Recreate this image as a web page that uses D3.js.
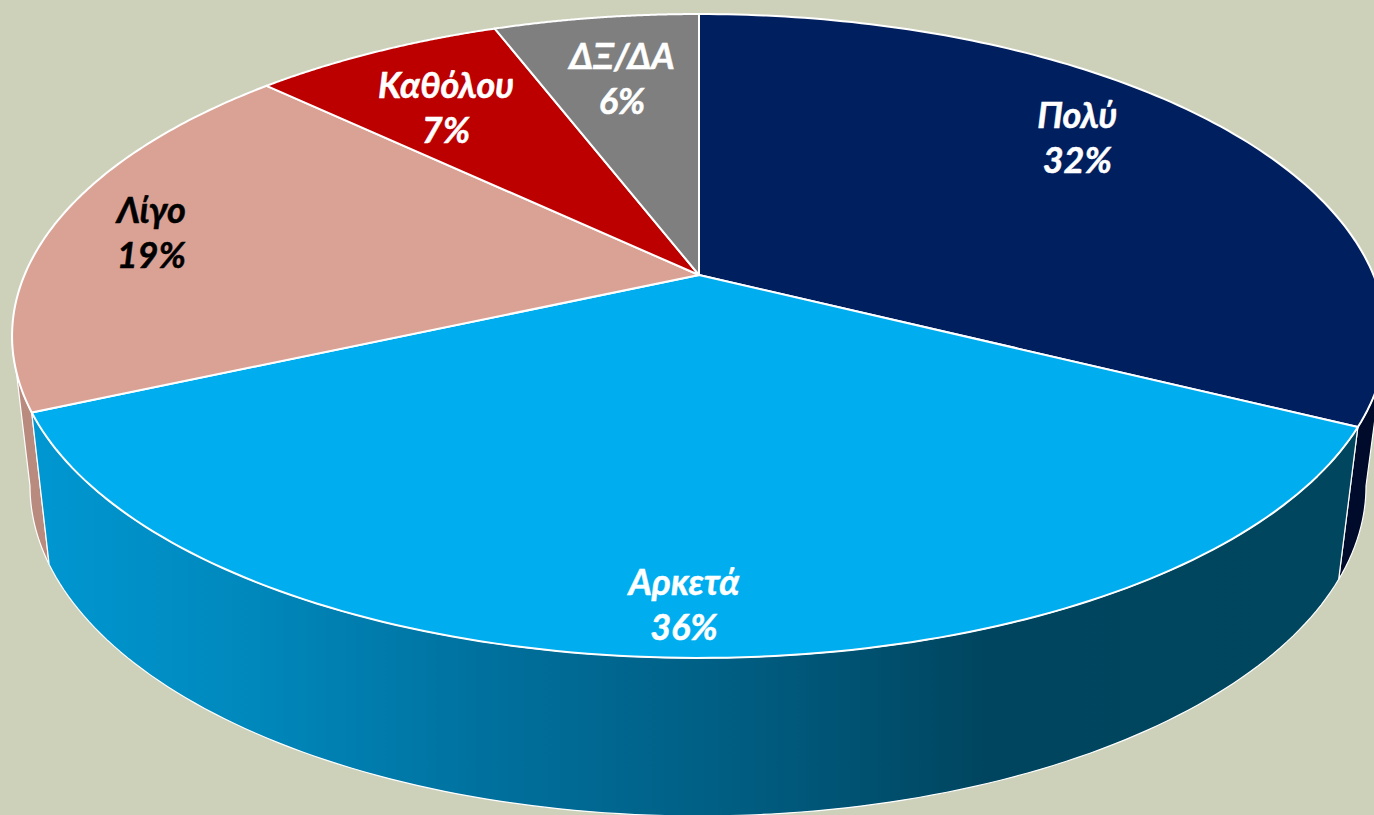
<!DOCTYPE html>
<html lang="el">
<head>
<meta charset="utf-8">
<title>Pie</title>
<script src="https://cdn.jsdelivr.net/npm/d3@7"></script>
<style>
html,body{margin:0;padding:0;background:#cdd1ba;overflow:hidden}
svg{display:block}
</style>
</head>
<body>
<svg id="chart" width="1374" height="815"></svg>
<script>
const categories = ["Πολύ", "Αρκετά", "Λίγο", "Καθόλου", "ΔΞ/ΔΑ"];
const values = [32.4, 35.9, 18.8, 7.1, 5.8];
const topColors = ["#001f5f", "#00aeef", "#daa294", "#bc0000", "#7f7f7f"];
const labelColors = ["#ffffff", "#ffffff", "#000000", "#ffffff", "#ffffff"];
const labelAngles = [51.7, 181.2, 279.5, 325.1, 349.75];
const labelRadii = [0.78, 0.885, 0.845, 0.73, 0.729];

const svg = d3.select("#chart");
const W = 1374, H = 815;
svg.append("rect").attr("width", W).attr("height", H).attr("fill", "#cdd1ba");

// Perspective: a unit disc projected on the screen, tilted by k
const k = 0.1894;
const topRim = {cx: 699, cy: 275, R: 674.5, S: 310.4};
const baseEllipse = {cx: 698, cy: 486, rx: 668, ry: 330};
const q = Math.sqrt(1 - k * k);
const baseRim = {
  cx: baseEllipse.cx,
  R: baseEllipse.rx * q,
  S: baseEllipse.ry * q * q,
  cy: baseEllipse.cy - baseEllipse.ry * k
};
function project(rim, angle, r = 1) {
  const u = r * Math.sin(angle), v = r * Math.cos(angle), w = 1 + k * v;
  return [rim.cx + rim.R * u / w, rim.cy - rim.S * v / w];
}
const arcPoints = (rim, a0, a1) => d3.range(0, 121).map(i => project(rim, a0 + (a1 - a0) * i / 120));
const poly = pts => d3.line()(pts) + "Z";

const pie = d3.pie().sort(null).value(d => d)(values);

// Blue wall gradient
const defs = svg.append("defs");
const grad = defs.append("linearGradient").attr("id", "wallBlue")
  .attr("gradientUnits", "userSpaceOnUse").attr("x1", 30).attr("x2", 1342).attr("y1", 0).attr("y2", 0);
[[0, "#0097d2"], [0.16, "#0089bd"], [0.36, "#006f9c"], [0.55, "#005c80"], [0.73, "#00455f"], [1, "#00465e"]]
  .forEach(([o, c]) => grad.append("stop").attr("offset", o).attr("stop-color", c));

// Side walls: silhouette tangent angle left and right of the disc
const tangent = Math.asin(k);
const leftLimit = 1.5 * Math.PI - tangent;
const rightLimit = 0.5 * Math.PI + tangent;
const walls = svg.append("g");
function wall(a0, a1, fill) {
  const pts = arcPoints(topRim, a0, a1).concat(arcPoints(baseRim, a0, a1).reverse());
  walls.append("path").attr("d", poly(pts)).attr("fill", fill)
    .attr("stroke", "#ffffff").attr("stroke-width", 1.2).attr("stroke-linejoin", "round");
}
wall(rightLimit, pie[0].endAngle, "#000a2a");
wall(pie[2].startAngle, leftLimit, "#b98a7e");
wall(pie[1].startAngle, pie[1].endAngle, "url(#wallBlue)");

// Top face
svg.append("g").selectAll("path").data(pie).join("path")
  .attr("d", d => poly([project(topRim, 0, 0)].concat(arcPoints(topRim, d.startAngle, d.endAngle))))
  .attr("fill", (d, i) => topColors[i])
  .attr("stroke", "#ffffff").attr("stroke-width", 2).attr("stroke-linejoin", "round");

// Labels
const labels = svg.append("g")
  .attr("font-family", "Lato, 'Open Sans', 'Noto Sans', sans-serif")
  .attr("font-weight", 700).attr("font-style", "italic").attr("font-size", 36)
  .attr("text-anchor", "middle").attr("stroke-width", 0.5);
categories.forEach((c, i) => {
  const [x, y] = project(topRim, labelAngles[i] * Math.PI / 180, labelRadii[i]);
  const t = labels.append("text").attr("fill", labelColors[i]).attr("stroke", labelColors[i]);
  t.append("tspan").attr("x", x).attr("y", y - 10).text(c);
  t.append("tspan").attr("x", x).attr("y", y + 35).text(Math.round(values[i]) + "%");
});
</script>
</body>
</html>
